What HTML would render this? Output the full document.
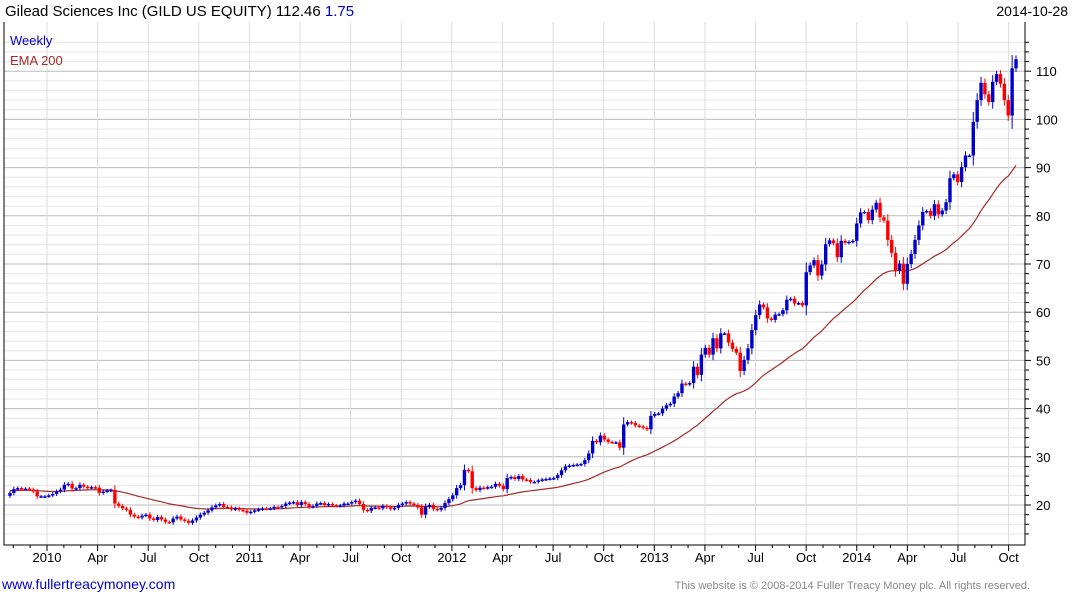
<!DOCTYPE html>
<html><head><meta charset="utf-8"><style>
body{margin:0;background:#fff;width:1075px;height:600px;overflow:hidden;font-family:"Liberation Sans",Arial,sans-serif}
svg text{font-family:"Liberation Sans",Arial,sans-serif}
</style></head><body>
<svg id="chart" width="1075" height="600" viewBox="0 0 1075 600" xmlns="http://www.w3.org/2000/svg">
<text x="5" y="16" font-size="15" fill="#000">Gilead Sciences Inc (GILD US EQUITY) 112.46 <tspan fill="#0000cc">1.75</tspan></text>
<text x="1068" y="16" font-size="14" fill="#000" text-anchor="end">2014-10-28</text>
<g id="grid"></g><g id="ema"></g><g id="candles"></g><g id="axes"></g>
<text x="10" y="45" font-size="13" fill="#0000cc">Weekly</text>
<text x="10" y="65" font-size="13" fill="#a52a2a">EMA 200</text>
<text x="2" y="589" font-size="14" fill="#0000cc">www.fullertreacymoney.com</text>
<text x="1030" y="589" font-size="11" fill="#888" text-anchor="end">This website is © 2008-2014 Fuller Treacy Money plc. All rights reserved.</text>
</svg>
<script>
const closes=[22.5,23.3,23.5,23.4,23.4, 23.2,22.8,21.8,21.8, 21.8,22.0,22.3,22.8,23.2, 24.2,24.4,23.4,23.5, 24.2,23.8,23.6,23.7,23.6, 22.5,22.8,23.0,23.1, 20.3,19.8,19.3,19.0, 18.0,17.6,17.4,17.8,18.0, 17.2,16.9,17.5,17.0, 16.5,16.4,17.2,17.6,17.0, 16.7,16.3,16.8,17.4, 18.0,18.4,18.9,19.5, 19.9,20.2,19.6,19.5,19.1, 19.3,19.0,18.8,18.4, 18.6,18.9,19.1,19.3, 19.2,19.3,19.6,19.5, 19.8,20.3,20.5,20.6,20.0, 20.6,20.2,19.6,19.8, 20.3,20.4,20.0,20.2, 19.9,19.8,19.9,20.3,20.3, 20.6,20.9,20.2,19.0, 18.8,19.4,19.5,19.3, 19.8,19.5,19.2,19.4,20.0, 20.3,20.6,20.3,20.0, 19.5,18.0,19.6,20.0, 19.2,19.0,
19.4,20.4,21.2,22.0,23.5,24.1,27.3,27.0,23.5,23.1,23.6,23.5,23.7,23.8,24.4,24.0,23.3,25.6,25.8,25.4,26.0,25.3,25.2,24.8,24.8,25.1,25.3,25.4,25.5,25.6,26.2,27.2,28.0,28.2,28.3,28.4,28.5,29.3,30.7,33.3,33.0,34.4,33.6,33.1,33.0,33.0,31.9,36.7,37.2,37.0,36.5,36.3,36.0,35.7,38.5,38.9,39.0,40.0,40.7,41.0,42.5,43.2,45.2,45.0,45.3,48.7,47.0,51.2,52.6,51.2,54.6,52.5,55.6,55.6,53.7,52.4,51.6,47.8,50.1,52.5,56.3,59.4,61.6,61.0,58.7,58.4,59.5,59.6,60.4,62.6,62.8,61.8,61.9,61.4,
68.3,69.7,70.8,67.6,69.9,74.1,74.9,74.3,71.4,74.8,74.4,74.6,74.8,78.4,80.7,80.8,79.1,81.3,82.7,79.7,79.0,75.0,72.3,68.6,70.1,65.9,70.0,72.1,75.0,78.0,80.8,81.0,80.0,82.4,80.3,81.1,82.8,87.8,88.6,87.0,90.1,92.5,92.5,99.5,104,107.6,105.2,103.6,107.8,109.4,107.4,104,100.8,110.6,112.5];
const yTicks=[20,30,40,50,60,70,80,90,100,110];
const xLabels=["2010","Apr","Jul","Oct","2011","Apr","Jul","Oct","2012","Apr","Jul","Oct","2013","Apr","Jul","Oct","2014","Apr","Jul","Oct"];
const emaSeed=23.0, emaPeriod=40;

const NS="http://www.w3.org/2000/svg";
const L=4,R=1025,T=22,B=545;
const y=v=>505-(v-20)*4.82;
const mx=m=>47+m*16.87;
const firstX=10,lastX=1016;
const step=(lastX-firstX)/(closes.length-1);
const x=i=>firstX+i*step;
function mk(tag,attrs,parent){const e=document.createElementNS(NS,tag);for(const k in attrs)e.setAttribute(k,attrs[k]);parent.appendChild(e);return e;}
const grid=document.getElementById('grid'),axes=document.getElementById('axes');
for(let v=14;v<=116;v+=2){const yy=y(v);if(yy<T||yy>B)continue;
 const major=v%10===0;
 const ln=mk('line',{x1:L,x2:R,y1:yy,y2:yy,stroke:major?'#bbb':'#e6e6e6','stroke-width':1},grid);
 
 
 const tk=mk('line',{x1:R,x2:R+(major?6:4),y1:yy,y2:yy,stroke:'#000'},axes);
 
 
}
yTicks.forEach(v=>{const t=mk('text',{x:1036,y:y(v)+5,'font-size':13,fill:'#000'},axes);t.textContent=v;
 
 });
xLabels.forEach((lab,k)=>{const xx=mx(k*3);
 const g=mk('line',{x1:xx,x2:xx,y1:T,y2:B,stroke:'#ddd'},grid);
 
 
 const t=mk('text',{x:xx,y:562,'font-size':13,fill:'#000','text-anchor':'middle'},axes);t.textContent=lab;
 
 });
for(let m=-2;m<=58;m++){const xx=mx(m);if(xx<L||xx>R)continue;
 const tk=mk('line',{x1:xx,x2:xx,y1:B,y2:B+(m%3===0?6:3),stroke:'#000'},axes);
 
 }
const frame=mk('path',{d:`M${L} ${T} V${B} H${R} V${T}`,fill:'none',stroke:'#000','stroke-width':1},axes);


let e=emaSeed;const a=2/(emaPeriod+1);let pts=[];
closes.forEach((c,i)=>{e=e+a*(c-e);pts.push(x(i).toFixed(1)+','+y(e).toFixed(1));});
const em=mk('polyline',{points:pts.join(' '),fill:'none',stroke:'#a52a2a','stroke-width':1.2},document.getElementById('ema'));


const cg=document.getElementById('candles');
closes.forEach((c,i)=>{const o=i===0?c-0.6:closes[i-1];const up=c>=o;const col=up?'#0000cc':'#ff0000';
 const hi=Math.max(o,c)+0.3+Math.abs(c-o)*0.25,lo=Math.min(o,c)-0.3-Math.abs(c-o)*0.25;
 const xx=x(i);
 const w=mk('line',{x1:xx,x2:xx,y1:y(hi),y2:y(lo),stroke:col,'stroke-width':1},cg);
 
 
 const top=y(Math.max(o,c)),h=Math.max(1.5,y(Math.min(o,c))-top);
 const r=mk('rect',{x:xx-1.7,y:top,width:3.4,height:h,fill:col},cg);
 
 
});
</script>
</body></html>
